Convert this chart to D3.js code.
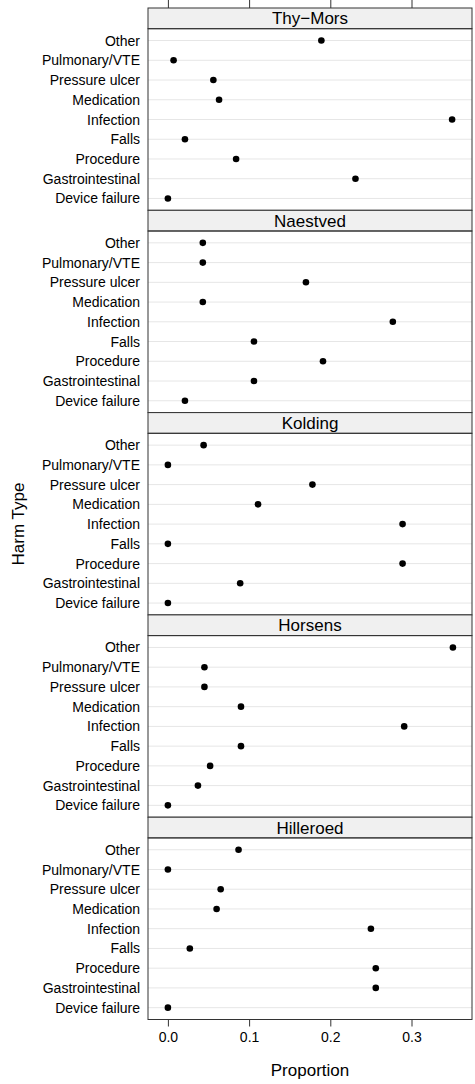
<!DOCTYPE html>
<html>
<head>
<meta charset="utf-8">
<script src="https://cdn.jsdelivr.net/npm/d3@7"></script>
<style>
  body { margin: 0; background: #fff; }
  svg text { font-family: "Liberation Sans", Arial, sans-serif; fill: #000; }
</style>
</head>
<body>
<svg id="chart" width="475" height="1084"></svg>
<script>
// harm types, top to bottom inside each panel
var harmTypes = ["Other", "Pulmonary/VTE", "Pressure ulcer", "Medication", "Infection",
                 "Falls", "Procedure", "Gastrointestinal", "Device failure"];
var sites = ["Thy\u2212Mors", "Naestved", "Kolding", "Horsens", "Hilleroed"];

// proportions, same order as harmTypes
var thyMors   = [0.189, 0.007, 0.056, 0.063, 0.350, 0.021, 0.084, 0.231, 0.000];
var naestved  = [0.043, 0.043, 0.170, 0.043, 0.277, 0.106, 0.191, 0.106, 0.021];
var kolding   = [0.044, 0.000, 0.178, 0.111, 0.289, 0.000, 0.289, 0.089, 0.000];
var horsens   = [0.351, 0.045, 0.045, 0.090, 0.291, 0.090, 0.052, 0.037, 0.000];
var hilleroed = [0.087, 0.000, 0.065, 0.060, 0.250, 0.027, 0.256, 0.256, 0.000];

var xTicks = [0, 0.1, 0.2, 0.3];

var siteValues = [thyMors, naestved, kolding, horsens, hilleroed];

var svg = d3.select("#chart");
// (window.top is reserved, hence plotTop)
var plotLeft = 148, plotRight = 472, plotTop = 8, plotBottom = 1019.5;
var stripH = 20.7;

// lattice pads the data range by 7% on each side
var x = d3.scaleLinear().domain([-0.0245, 0.3745]).range([plotLeft, plotRight]);
var band = d3.scaleBand().domain(sites).range([plotTop, plotBottom]);
var panelH = band.bandwidth() - stripH;
var y = d3.scalePoint().domain(harmTypes).range([0, panelH]).padding(0.6);

sites.forEach(function (site, i) {
    var g = svg.append("g").attr("transform", "translate(0," + band(site) + ")");
    var rows = harmTypes.map((h, j) => ({ type: h, value: siteValues[i][j] }));

    // strip
    g.append("rect")
        .attr("x", plotLeft).attr("y", 0)
        .attr("width", plotRight - plotLeft).attr("height", stripH)
        .attr("fill", "#f0f0f0").attr("stroke", "#333").attr("stroke-width", 1);
    g.append("text")
        .attr("x", (plotLeft + plotRight) / 2).attr("y", stripH / 2)
        .attr("dy", "0.36em")
        .attr("text-anchor", "middle")
        .attr("font-size", 17)
        .text(site);

    var p = g.append("g").attr("transform", "translate(0," + stripH + ")");

    p.selectAll("line.grid")
        .data(rows)
        .enter()
        .append("line")
        .attr("class", "grid")
        .attr("x1", plotLeft).attr("x2", plotRight)
        .attr("y1", d => y(d.type)).attr("y2", d => y(d.type))
        .attr("stroke", "#e6e6e6").attr("stroke-width", 1);

    p.selectAll("text.lab")
        .data(rows)
        .enter()
        .append("text")
        .attr("class", "lab")
        .attr("x", 140)
        .attr("y", d => y(d.type))
        .attr("dy", "0.36em")
        .attr("text-anchor", "end")
        .attr("font-size", 14)
        .text(d => d.type);

    p.selectAll("circle")
        .data(rows)
        .enter()
        .append("circle")
        .attr("r", 3.3)
        .attr("fill", "#000")
        .attr("cx", d => x(d.value))
        .attr("cy", d => y(d.type));

    p.append("rect")
        .attr("x", plotLeft).attr("y", 0)
        .attr("width", plotRight - plotLeft).attr("height", panelH)
        .attr("fill", "none").attr("stroke", "#333").attr("stroke-width", 1);
});

// top ticks above the first strip, no labels
svg.append("g")
    .attr("transform", "translate(0," + plotTop + ")")
    .call(d3.axisTop(x).tickValues(xTicks).tickSize(8).tickFormat(""))
    .call(a => a.select(".domain").remove())
    .call(a => a.selectAll("line").attr("stroke", "#333"));

var xb = svg.append("g")
    .attr("transform", "translate(0," + plotBottom + ")")
    .call(d3.axisBottom(x).tickValues(xTicks).tickSize(7).tickPadding(6).tickFormat(d3.format(".1f")))
    .call(a => a.select(".domain").remove())
    .call(a => a.selectAll("line").attr("stroke", "#333"));
xb.attr("font-size", 14).attr("font-family", null);
xb.selectAll("text").attr("fill", "#000");

svg.append("text")
    .attr("x", (plotLeft + plotRight) / 2).attr("y", 1076)
    .attr("text-anchor", "middle")
    .attr("font-size", 17)
    .text("Proportion");

svg.append("text")
    .attr("transform", "translate(24,524) rotate(-90)")
    .attr("text-anchor", "middle")
    .attr("font-size", 17)
    .text("Harm Type");
</script>
</body>
</html>
